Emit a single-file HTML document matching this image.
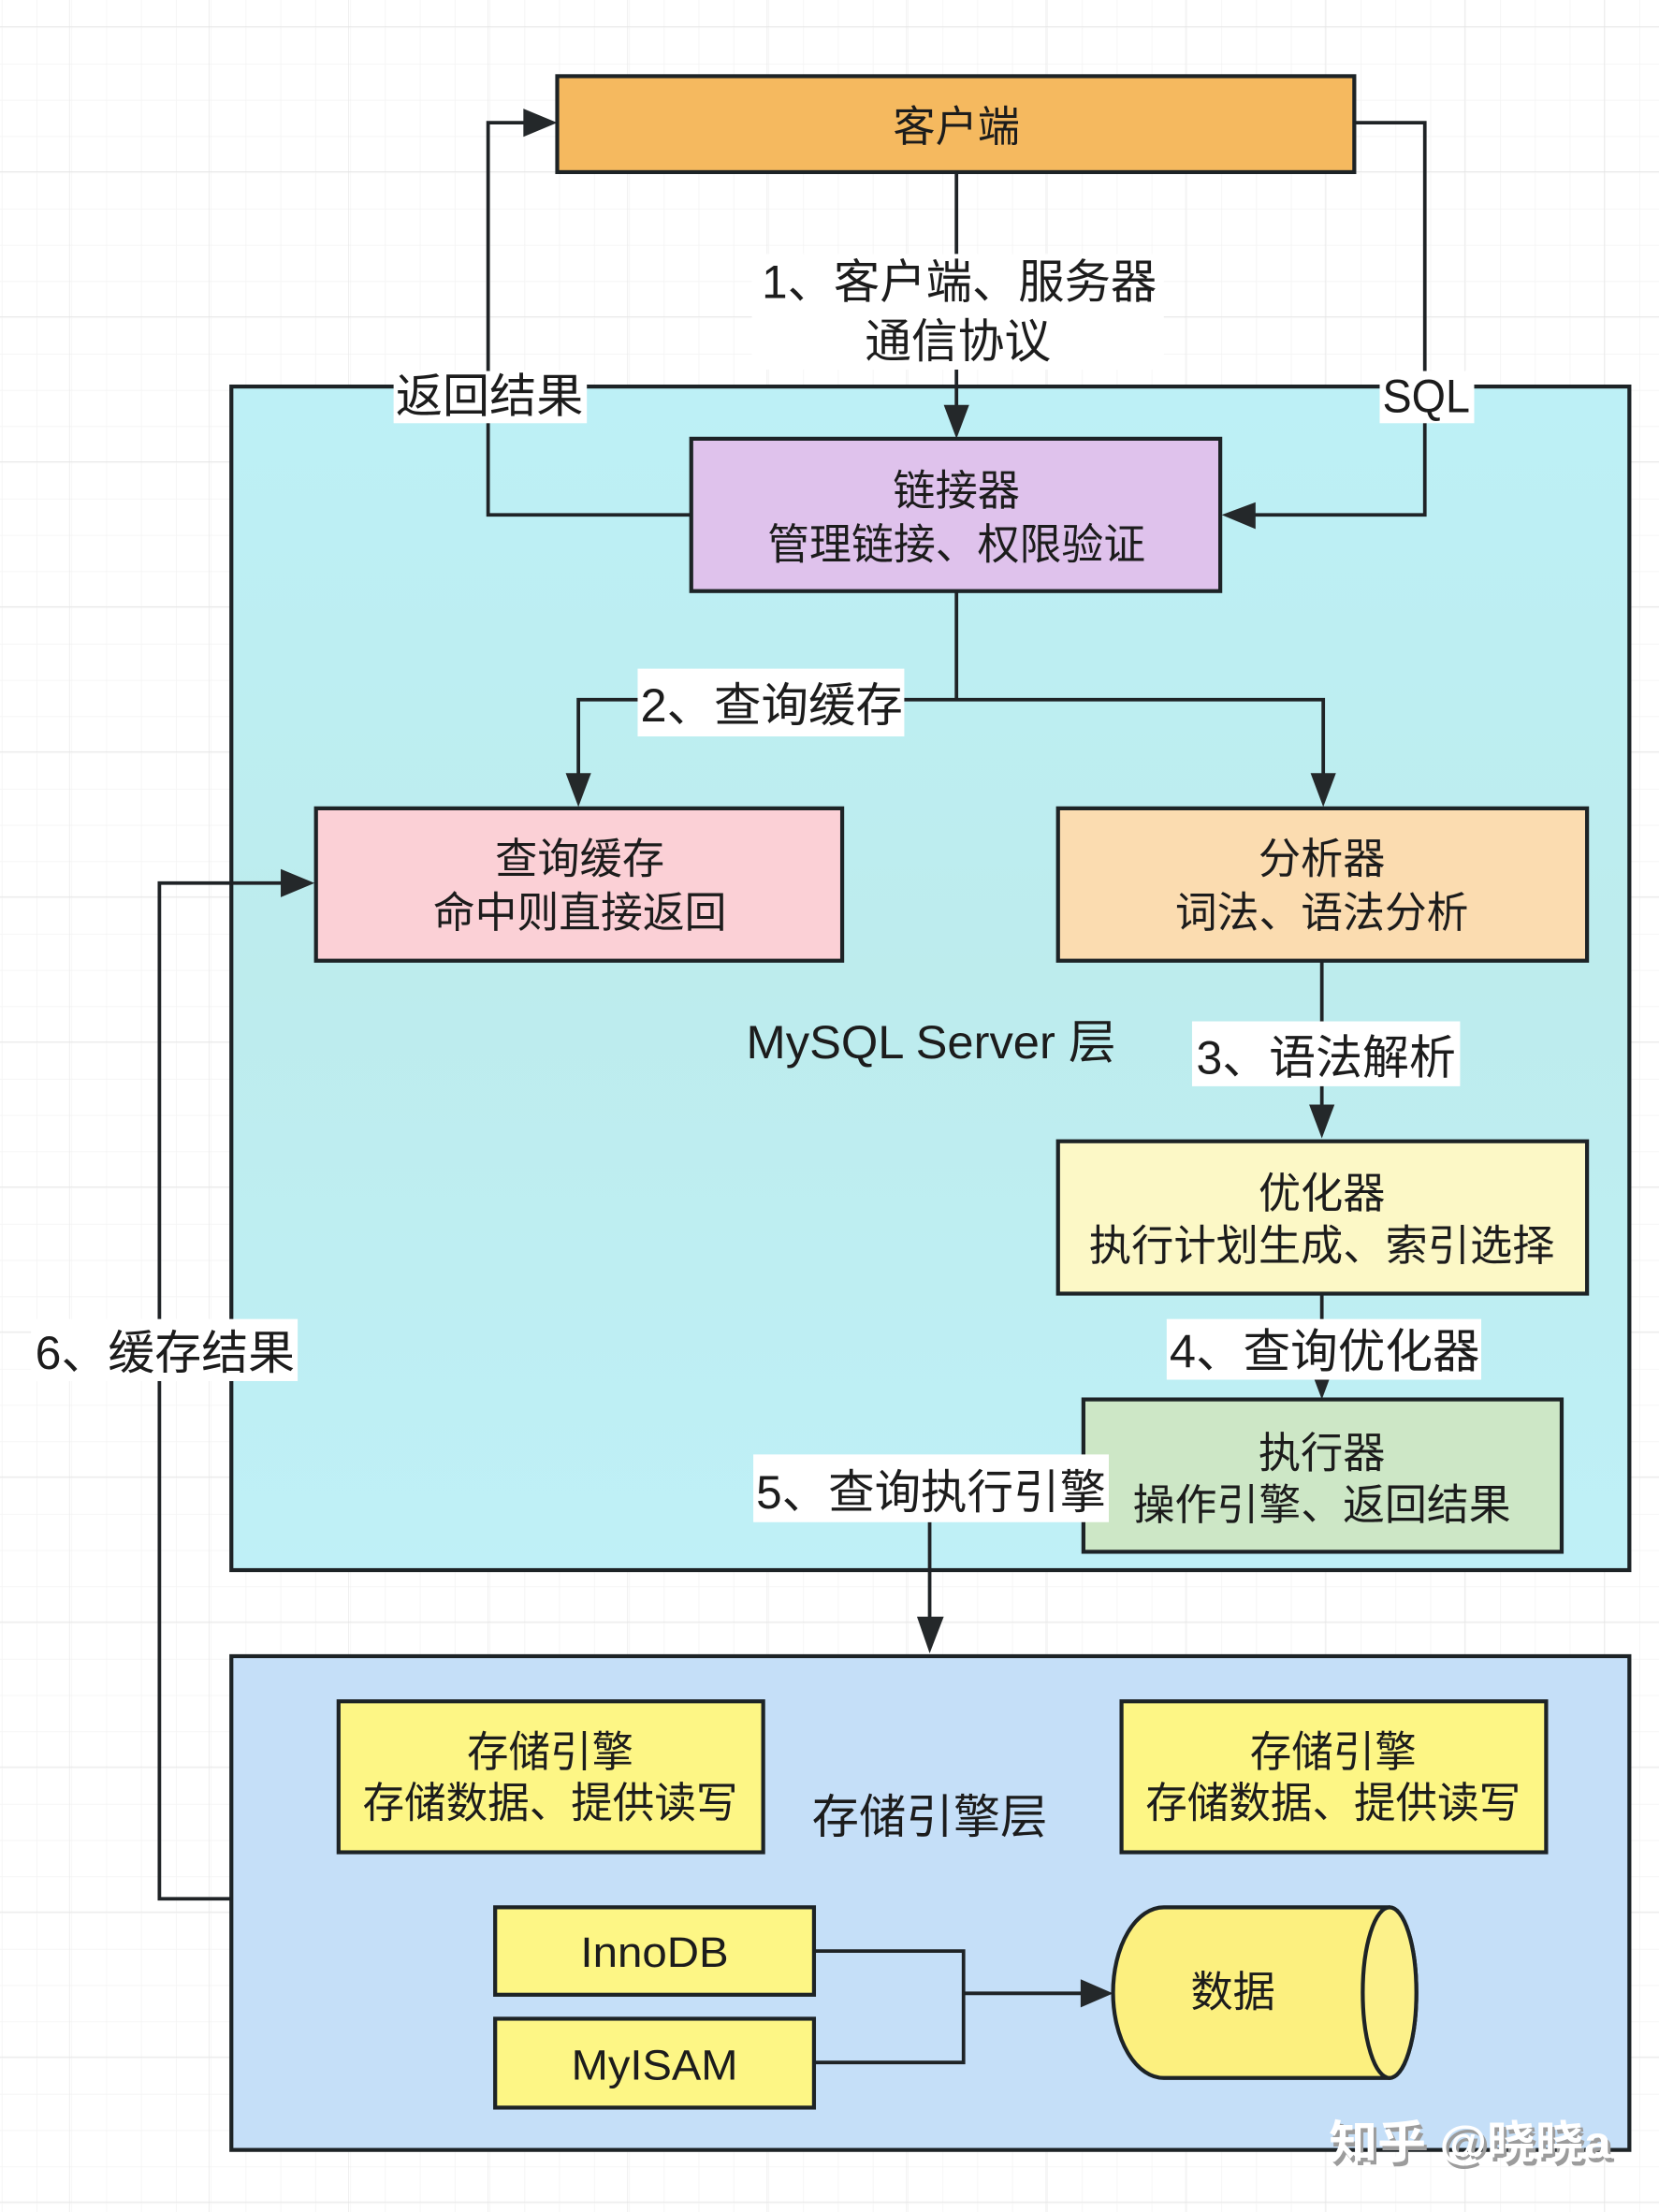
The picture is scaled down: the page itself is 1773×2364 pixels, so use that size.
<!DOCTYPE html>
<html lang="zh"><head><meta charset="utf-8"><title>MySQL 架构</title>
<style>
html,body{margin:0;padding:0;background:#fff;width:1773px;height:2364px;overflow:hidden}
svg{display:block}
text{font-family:"Liberation Sans","Noto Sans CJK SC",sans-serif;font-size:30px;fill:#1c1c1c;text-anchor:middle;dominant-baseline:central}
.b{fill:none;stroke:#1d2326;stroke-width:2.8}
.l{fill:none;stroke:#1f2326;stroke-width:2.5}
.a{fill:#24282a}
.w{fill:#fff}
</style></head><body>
<svg width="1773" height="2364" viewBox="0 0 1176 1568" xmlns="http://www.w3.org/2000/svg">
<defs>
<pattern id="gx" width="24.7" height="100" patternUnits="userSpaceOnUse" patternTransform="translate(1.2 0)"><line x1="0" y1="0" x2="0" y2="100" stroke="#f3f3f3" stroke-width="1"/></pattern>
<pattern id="gy" width="100" height="25.7" patternUnits="userSpaceOnUse" patternTransform="translate(0 19.4)"><line x1="0" y1="0" x2="100" y2="0" stroke="#f3f3f3" stroke-width="1"/></pattern>
<pattern id="mx" width="98.9" height="100" patternUnits="userSpaceOnUse" patternTransform="translate(49 0)"><line x1="0" y1="0" x2="0" y2="100" stroke="#e9e9e9" stroke-width="1"/></pattern>
<pattern id="my" width="100" height="102.8" patternUnits="userSpaceOnUse" patternTransform="translate(0 18.6)"><line x1="0" y1="0" x2="100" y2="0" stroke="#e4e4e4" stroke-width="1"/></pattern>
<linearGradient id="p1" x1="0" y1="0" x2="0" y2="1"><stop offset="0" stop-color="#bdf0f6"/><stop offset=".5" stop-color="#bdeced"/><stop offset="1" stop-color="#bff0f7"/></linearGradient>
</defs>
<rect width="1176" height="1568" fill="#fff"/>
<rect width="1176" height="1568" fill="url(#gx)"/>
<rect width="1176" height="1568" fill="url(#gy)"/>
<rect width="1176" height="1568" fill="url(#mx)"/>
<rect width="1176" height="1568" fill="url(#my)"/>

<!-- panels -->
<rect class="b" x="164" y="274" width="991" height="839" style="fill:url(#p1)"/>
<rect class="b" x="164" y="1174" width="991" height="350" style="fill:#c5dff8"/>

<!-- connectors -->
<path class="l" d="M678 122V295"/>
<path class="a" d="M678 311L669 287H687Z"/>
<path class="l" d="M960 87H1010V365H885"/>
<path class="a" d="M866 365L890 356V375Z"/>
<path class="l" d="M490 365H346V87H375"/>
<path class="a" d="M395 87L371 77V97Z"/>
<path class="l" d="M678 419V496H410V552M678 496H938V552"/>
<path class="a" d="M410 572L401 548H419Z"/>
<path class="a" d="M938 572L929 548H947Z"/>
<path class="l" d="M937 681V790"/>
<path class="a" d="M937 807L928 783H946Z"/>
<path class="l" d="M937 917V975"/>
<path class="a" d="M937 992L928 968H946Z"/>
<path class="l" d="M659 1079V1155"/>
<path class="a" d="M659 1172L650 1146H669Z"/>
<path class="l" d="M163 1346H113V626H205"/>
<path class="a" d="M223 626L199 616V636Z"/>
<path class="l" d="M577 1383H683V1462H577M683 1413H770"/>
<path class="a" d="M789 1413L766 1403V1423Z"/>

<!-- nodes -->
<rect class="b" x="395" y="54" width="565" height="68" style="fill:#f5b95f"/>
<rect class="b" x="490" y="311" width="375" height="108" style="fill:#dfc2ec"/>
<rect class="b" x="224" y="573" width="373" height="108" style="fill:#fbd0d6"/>
<rect class="b" x="750" y="573" width="375" height="108" style="fill:#fbdcb0"/>
<rect class="b" x="750" y="809" width="375" height="108" style="fill:#fcf8c6"/>
<rect class="b" x="768" y="992" width="339" height="108" style="fill:#cde7c6"/>
<rect class="b" x="240" y="1206" width="301" height="107" style="fill:#fdf685"/>
<rect class="b" x="795" y="1206" width="301" height="107" style="fill:#fdf685"/>
<rect class="b" x="351" y="1352" width="226" height="62" style="fill:#fdf685"/>
<rect class="b" x="351" y="1431" width="226" height="63" style="fill:#fdf685"/>
<path class="b" style="fill:#fcf07f" d="M825 1352H985A19 60.5 0 0 1 985 1473H825A36 60.5 0 0 1 825 1352Z"/>
<ellipse class="b" style="fill:#fcf18a" cx="985" cy="1412.5" rx="19" ry="60.5"/>

<!-- label backgrounds -->
<rect class="w" x="533" y="180" width="292" height="82"/>
<rect class="w" x="279" y="263" width="137" height="37"/>
<rect class="w" x="978" y="263" width="67" height="37"/>
<rect class="w" x="452" y="474" width="189" height="48"/>
<rect class="w" x="845" y="724" width="190" height="46"/>
<rect class="w" x="827" y="935" width="223" height="43"/>
<rect class="w" x="534" y="1031" width="252" height="48"/>
<rect class="w" x="22" y="935" width="189" height="44"/>

<!-- text -->
<g transform="translate(0 1)">
<text x="678" y="89" textLength="90" lengthAdjust="spacingAndGlyphs">客户端</text>
<text x="680" y="199" textLength="280" lengthAdjust="spacingAndGlyphs" style="font-size:33px">1、客户端、服务器</text>
<text x="679" y="241" textLength="132" lengthAdjust="spacingAndGlyphs" style="font-size:33px">通信协议</text>
<text x="347" y="280" textLength="133" lengthAdjust="spacingAndGlyphs" style="font-size:33px">返回结果</text>
<text x="1011" y="280" textLength="62" lengthAdjust="spacingAndGlyphs" style="font-size:33px">SQL</text>
<text x="678" y="347" textLength="90" lengthAdjust="spacingAndGlyphs">链接器</text>
<text x="678" y="385" textLength="268" lengthAdjust="spacingAndGlyphs">管理链接、权限验证</text>
<text x="547" y="499" textLength="186" lengthAdjust="spacingAndGlyphs" style="font-size:33px">2、查询缓存</text>
<text x="411" y="608" textLength="120" lengthAdjust="spacingAndGlyphs">查询缓存</text>
<text x="411" y="646" textLength="208" lengthAdjust="spacingAndGlyphs">命中则直接返回</text>
<text x="937" y="608" textLength="90" lengthAdjust="spacingAndGlyphs">分析器</text>
<text x="937" y="646" textLength="208" lengthAdjust="spacingAndGlyphs">词法、语法分析</text>
<text x="660" y="738" textLength="262" lengthAdjust="spacingAndGlyphs" style="font-size:33px">MySQL Server 层</text>
<text x="940" y="749" textLength="184" lengthAdjust="spacingAndGlyphs" style="font-size:33px">3、语法解析</text>
<text x="937" y="845" textLength="90" lengthAdjust="spacingAndGlyphs">优化器</text>
<text x="937" y="882" textLength="330" lengthAdjust="spacingAndGlyphs">执行计划生成、索引选择</text>
<text x="939" y="957" textLength="220" lengthAdjust="spacingAndGlyphs" style="font-size:33px">4、查询优化器</text>
<text x="937" y="1029" textLength="90" lengthAdjust="spacingAndGlyphs">执行器</text>
<text x="937" y="1066" textLength="268" lengthAdjust="spacingAndGlyphs">操作引擎、返回结果</text>
<text x="660" y="1057" textLength="248" lengthAdjust="spacingAndGlyphs" style="font-size:33px">5、查询执行引擎</text>
<text x="117" y="958" textLength="184" lengthAdjust="spacingAndGlyphs" style="font-size:33px">6、缓存结果</text>
<text x="390" y="1241" textLength="118" lengthAdjust="spacingAndGlyphs">存储引擎</text>
<text x="390" y="1277" textLength="266" lengthAdjust="spacingAndGlyphs">存储数据、提供读写</text>
<text x="945" y="1241" textLength="118" lengthAdjust="spacingAndGlyphs">存储引擎</text>
<text x="945" y="1277" textLength="266" lengthAdjust="spacingAndGlyphs">存储数据、提供读写</text>
<text x="659" y="1287" textLength="167" lengthAdjust="spacingAndGlyphs" style="font-size:33px">存储引擎层</text>
<text x="464" y="1383" textLength="105" lengthAdjust="spacingAndGlyphs">InnoDB</text>
<text x="464" y="1463" textLength="118" lengthAdjust="spacingAndGlyphs">MyISAM</text>
<text x="874" y="1411" textLength="60" lengthAdjust="spacingAndGlyphs">数据</text>
</g>

<!-- watermark -->
<text x="1044" y="1522" textLength="200" lengthAdjust="spacingAndGlyphs" style="font-size:32px;font-weight:700;fill:#9c9c9c">知乎 @晓晓a</text>
<text x="1042" y="1519" textLength="200" lengthAdjust="spacingAndGlyphs" style="font-size:32px;font-weight:700;fill:#ffffff">知乎 @晓晓a</text>
</svg>
</body></html>
